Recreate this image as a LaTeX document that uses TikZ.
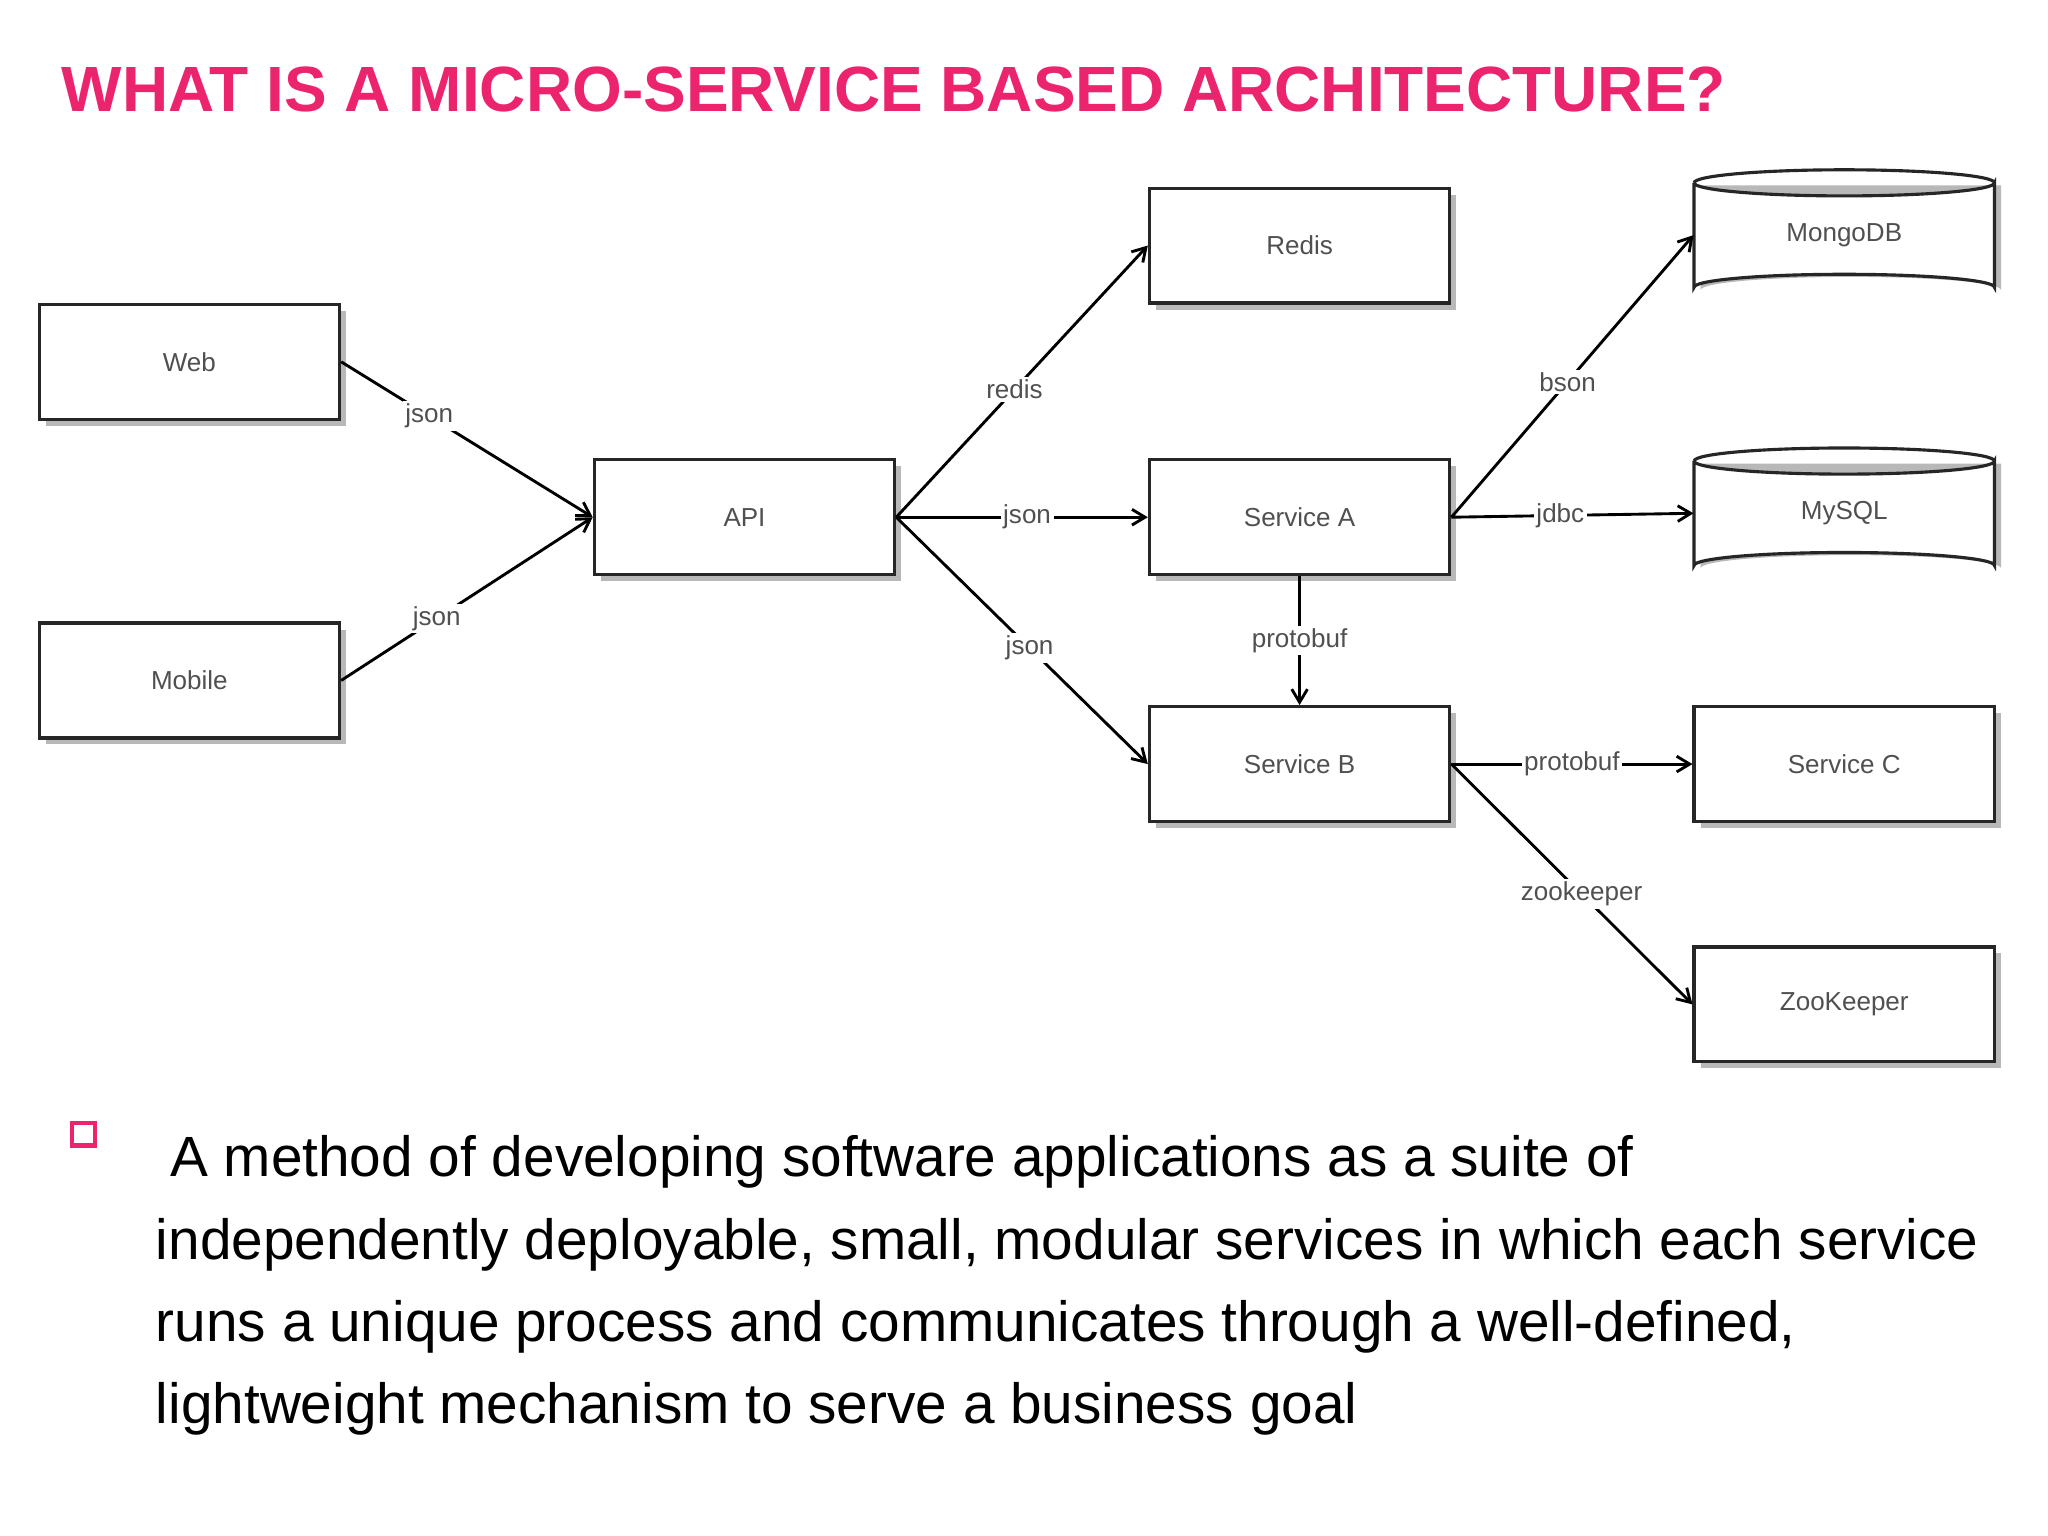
\documentclass[tikz,border=0pt]{standalone}
\usepackage{fontspec}
\usepackage{graphicx}
\setmainfont{Liberation Sans}
\usetikzlibrary{arrows.meta,shadows}
\definecolor{pinkt}{RGB}{236,36,110}
\definecolor{lblgray}{RGB}{80,80,80}
\begin{document}
\begin{tikzpicture}[x=0.5bp,y=-0.5bp,
  box/.style={draw=black!85,line width=1.2bp,minimum width=115bp,minimum height=44bp,fill=white,
    drop shadow={shadow xshift=2.5bp,shadow yshift=-2.5bp,fill=black!35,opacity=0.8},
    font=\fontsize{10}{12}\selectfont,text=lblgray},
  conn/.style={line width=1.1bp,-{Straight Barb[length=5bp,width=6bp]}},
  lbl/.style={fill=white,inner sep=1bp,font=\fontsize{10}{12}\selectfont,text=lblgray}]
\useasboundingbox (0,0) rectangle (1568,1176);
\node[anchor=base west,inner sep=0,text=pinkt] (title) at (47,85)
  {\resizebox{637bp}{!}{\bfseries\fontsize{28}{30}\selectfont WHAT IS A MICRO-SERVICE BASED ARCHITECTURE?}};
% boxes
\node[box] (web) at (145,277) {Web};
\node[box] (mobile) at (145,521) {Mobile};
\node[box] (api) at (570,396) {API};
\node[box] (redis) at (995,188) {Redis};
\node[box] (sa) at (995,396) {Service A};
\node[box] (sb) at (995,585) {Service B};
\node[box] (sc) at (1412,585) {Service C};
\node[box] (zk) at (1412,769) {ZooKeeper};
% cylinders
\foreach \n/\cy/\t in {mongo/180/MongoDB,mysql/393/MySQL}{
  \begin{scope}[shift={(1412,\cy)}]
  \fill[black!35,opacity=0.8] (-110,-38) -- (-110,42) arc[start angle=180,end angle=360,x radius=115,y radius=10] -- (120,-38) -- cycle;
  \filldraw[fill=white,draw=black!85,line width=1.2bp] (-115,-40) -- (-115,40) arc[start angle=180,end angle=360,x radius=115,y radius=10] -- (115,-40) arc[start angle=0,end angle=180,x radius=115,y radius=10];
  \draw[line width=1.2bp,black!85] (-115,-40) arc[start angle=180,end angle=360,x radius=115,y radius=10];
  \end{scope}
  \node[minimum width=115bp,minimum height=50bp,inner sep=0,font=\fontsize{10}{12}\selectfont,text=lblgray] (\n) at (1412,\cy) {\t};
}
% connectors
\draw[conn] (web.east) -- node[lbl,pos=0.35]{json} (api.west);
\draw[conn] (mobile.east) -- node[lbl,pos=0.38]{json} (api.west);
\draw[conn] (api.east) -- node[lbl,pos=0.47]{redis} (redis.west);
\draw[conn] (api.east) -- node[lbl,pos=0.52]{json} (sa.west);
\draw[conn] (api.east) -- node[lbl,pos=0.53]{json} (sb.west);
\draw[conn] (sa.east) -- node[lbl,pos=0.48]{bson} (mongo.west);
\draw[conn] (sa.east) -- node[lbl,pos=0.45]{jdbc} (mysql.west);
\draw[conn] (sa.south) -- node[lbl]{protobuf} (sb.north);
\draw[conn] (sb.east) -- node[lbl,pos=0.5]{protobuf} (sc.west);
\draw[conn] (sb.east) -- node[lbl,pos=0.54]{zookeeper} (zk.west);
% bullet
\draw[pinkt,line width=1.6bp] (55,860) rectangle (73,877);
\foreach \i/\x/\t in {0/130/{A method of developing software applications as a suite of},
  1/119/{independently deployable, small, modular services in which each service},
  2/119/{runs a unique process and communicates through a well-defined,},
  3/119/{lightweight mechanism to serve a business goal}}{
  \node[anchor=base west,inner sep=0,font=\fontsize{21.8}{25}\selectfont] (line\i) at (\x,{901+63*\i}) {\t};
}
\end{tikzpicture}
\end{document}
